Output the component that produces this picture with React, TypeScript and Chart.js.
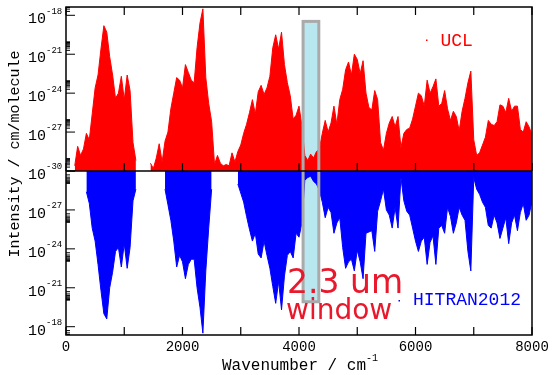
import React, { useEffect, useRef } from 'react';
import { Chart, registerables } from 'chart.js';

Chart.register(...registerables);

// Wavenumber sample positions (cm^-1)
const WAVENUMBER = [
  0, 50, 100, 150, 200, 250, 300, 350, 400, 450,
  500, 550, 600, 650, 700, 750, 800, 850, 900, 950,
  1000, 1050, 1100, 1150, 1200, 1250, 1300, 1350, 1400, 1450,
  1500, 1550, 1600, 1650, 1700, 1750, 1800, 1850, 1900, 1950,
  2000, 2050, 2100, 2150, 2200, 2250, 2300, 2350, 2400, 2450,
  2500, 2550, 2600, 2650, 2700, 2750, 2800, 2850, 2900, 2950,
  3000, 3050, 3100, 3150, 3200, 3250, 3300, 3350, 3400, 3450,
  3500, 3550, 3600, 3650, 3700, 3750, 3800, 3850, 3900, 3950,
  4000, 4050, 4100, 4150, 4200, 4250, 4300, 4350, 4400, 4450,
  4500, 4550, 4600, 4650, 4700, 4750, 4800, 4850, 4900, 4950,
  5000, 5050, 5100, 5150, 5200, 5250, 5300, 5350, 5400, 5450,
  5500, 5550, 5600, 5650, 5700, 5750, 5800, 5850, 5900, 5950,
  6000, 6050, 6100, 6150, 6200, 6250, 6300, 6350, 6400, 6450,
  6500, 6550, 6600, 6650, 6700, 6750, 6800, 6850, 6900, 6950,
  7000, 7050, 7100, 7150, 7200, 7250, 7300, 7350, 7400, 7450,
  7500, 7550, 7600, 7650, 7700, 7750, 7800, 7850, 7900, 7950,
  8000,
];

// log10 of the strongest line intensity (cm/molecule) near each wavenumber, UCL list
const UCL_LOG = [
  null, null, null, -29.6, -28.1, -28.8, -28.3, -27.1, -27.6, -25.6,
  -23.6, -22.6, -20.6, -18.8, -19.3, -21.2, -22.6, -24.4, -24.0, -22.7,
  -24.5, -22.6, -23.8, -27.8, -29.2, null, null, null, null, -29.4,
  -29.8, -29.0, -27.9, -29.3, -27.7, -27.0, -25.2, -24.0, -22.8, -23.0,
  -23.6, -21.8, -22.4, -23.0, -23.2, -20.5, -18.6, -17.5, -22.8, -24.8,
  -26.2, -29.5, -28.8, -29.4, -29.6, -29.5, -29.6, -28.6, -29.3, -28.5,
  -28.0, -27.1, -26.4, -25.5, -24.5, -25.6, -23.9, -23.4, -24.1, -23.6,
  -22.7, -20.5, -19.5, -20.6, -19.3, -21.8, -23.2, -24.2, -26.0, -25.7,
  -25.0, -26.5, -28.8, -29.2, -28.7, -29.0, -28.5, -28.3, -27.1, -26.1,
  -27.0, -26.3, -25.0, -26.4, -24.5, -23.7, -22.2, -21.6, -22.6, -21.0,
  -21.4, -22.5, -21.5, -24.0, -25.1, -25.3, -23.8, -24.5, -27.8, -28.4,
  -27.1, -26.3, -25.8, -26.6, -25.8, -28.2, -27.1, -26.8, -26.7, -26.0,
  -25.0, -24.0, -24.2, -25.0, -23.0, -24.0, -23.5, -22.9, -25.0, -24.8,
  -23.8, -25.2, -26.1, -25.4, -25.8, -26.9, -25.4, -24.4, -23.2, -22.3,
  -27.6, -28.8, -28.6, -28.0, -27.4, -26.1, -26.4, -26.5, -26.2, -24.9,
  -25.0, -25.5, -24.4, -25.4, -25.0, -25.0, -26.8, -27.0, -26.2, -26.6,
  -27.2,
];

// log10 of the strongest line intensity (cm/molecule) near each wavenumber, HITRAN2012
const HITRAN_LOG = [
  null, null, null, null, null, null, null, -28.4, -27.5, -25.6,
  -24.6, -22.8, -20.8, -19.0, -18.6, -21.0, -22.2, -23.8, -24.1, -22.6,
  -24.4, -22.5, -24.1, -27.7, -28.6, null, null, null, null, null,
  null, null, null, null, -28.6, -27.4, -26.2, -24.6, -22.6, -23.5,
  -23.0, -21.7, -22.8, -23.2, -23.2, -21.0, -19.5, -17.5, -22.3, -25.6,
  -28.6, null, -29.6, null, null, null, null, null, null, -29.0,
  -28.3, -27.6, -26.5, -25.5, -24.6, -25.2, -23.6, -23.3, -24.6, -23.5,
  -22.5, -21.1, -19.8, -21.5, -19.3, -21.9, -23.5, -23.8, -23.3, -25.2,
  -24.9, -26.0, -29.3, -29.5, -29.6, -29.2, -29.0, -28.5, -27.6, -26.4,
  -27.2, -26.8, -25.2, -26.0, -26.4, -24.1, -22.5, -23.0, -23.2, -22.3,
  -23.9, -23.0, -21.7, -25.2, -25.3, -25.4, -23.8, -26.9, -27.7, -28.6,
  -27.0, -26.6, -25.6, -27.2, -25.6, -29.5, -27.7, -26.9, -26.6, -25.6,
  -24.6, -23.8, -24.6, -24.9, -22.8, -24.5, -25.0, -22.8, -25.6, -25.8,
  -25.2, -27.2, -26.5, -25.2, -26.0, -27.2, -26.6, -26.2, -23.8, -22.3,
  -29.5, -28.6, -28.2, -27.6, -27.2, -25.8, -25.6, -26.6, -26.0, -24.8,
  -25.6, -26.4, -24.4, -26.0, -26.6, -25.4, -26.8, -27.5, -26.2, -26.6,
  -27.7,
];

// Axis definitions
const X_MIN = 0;
const X_MAX = 8000;
const X_TICK_STEP = 1000;
const X_LABEL_STEP = 2000;
const BASE_EXP = -30; // 1e-30 sits on the centre line
const LIMIT_EXP = -17.36; // axis extent at top and bottom
const Y_TICK_EXPONENTS = [-18, -21, -24, -27, -30];

// "2.3 um window" annotation (wavenumber range, upper/lower exponent extents)
const WINDOW_START = 4070;
const WINDOW_END = 4340;
const WINDOW_TOP_EXP = -18.47;
const WINDOW_BOTTOM_EXP = -19.92;

const SERIES_UCL = 'UCL';
const SERIES_HITRAN = 'HITRAN2012';

const MONO = '"Liberation Mono", "DejaVu Sans Mono", monospace';
const SANS = '"DejaVu Sans", sans-serif';

export default function App() {
  const ref = useRef<HTMLCanvasElement | null>(null);

  useEffect(() => {
    document.body.style.margin = '0';
    const canvas = ref.current;
    if (!canvas) return;

    const span = LIMIT_EXP - BASE_EXP;
    const upData = WAVENUMBER.map((w, i) => ({
      x: w,
      y: UCL_LOG[i] === null ? null : (UCL_LOG[i] as number) - BASE_EXP,
    }));
    const downData = WAVENUMBER.map((w, i) => ({
      x: w,
      y: HITRAN_LOG[i] === null ? null : -((HITRAN_LOG[i] as number) - BASE_EXP),
    }));

    const decor = {
      id: 'decor',
      beforeDatasetsDraw(chart: any) {
        const { ctx } = chart;
        const xs = chart.scales.x;
        const ys = chart.scales.y;
        const x1 = xs.getPixelForValue(WINDOW_START);
        const x2 = xs.getPixelForValue(WINDOW_END);
        const y1 = ys.getPixelForValue(WINDOW_TOP_EXP - BASE_EXP);
        const y2 = ys.getPixelForValue(-(WINDOW_BOTTOM_EXP - BASE_EXP));
        ctx.save();
        ctx.fillStyle = '#b9e7f0';
        ctx.fillRect(x1, y1, x2 - x1, y2 - y1);
        ctx.restore();
      },
      afterDatasetsDraw(chart: any) {
        const { ctx, chartArea: a } = chart;
        const xs = chart.scales.x;
        const ys = chart.scales.y;
        ctx.save();

        // window box outline (drawn above data)
        const x1 = xs.getPixelForValue(WINDOW_START);
        const x2 = xs.getPixelForValue(WINDOW_END);
        const y1 = ys.getPixelForValue(WINDOW_TOP_EXP - BASE_EXP);
        const y2 = ys.getPixelForValue(-(WINDOW_BOTTOM_EXP - BASE_EXP));
        ctx.strokeStyle = '#aaaaaa';
        ctx.lineWidth = 3;
        ctx.strokeRect(x1, y1, x2 - x1, y2 - y1);

        // centre line
        const yc = ys.getPixelForValue(0);
        ctx.strokeStyle = '#000';
        ctx.lineWidth = 1.5;
        ctx.beginPath();
        ctx.moveTo(a.left, yc);
        ctx.lineTo(a.right, yc);
        ctx.stroke();

        // frame
        ctx.lineWidth = 1.5;
        ctx.strokeRect(a.left, a.top, a.right - a.left, a.bottom - a.top);

        // x ticks
        ctx.lineWidth = 1.2;
        for (let w = X_MIN; w <= X_MAX; w += X_TICK_STEP) {
          const px = xs.getPixelForValue(w);
          ctx.beginPath();
          ctx.moveTo(px, a.top);
          ctx.lineTo(px, a.top + 8);
          ctx.moveTo(px, yc);
          ctx.lineTo(px, yc - 8);
          ctx.moveTo(px, a.bottom);
          ctx.lineTo(px, a.bottom - 8);
          ctx.stroke();
        }

        // y ticks (major + log minor)
        const inRange = (v: number) => v <= span + 1e-6 && v >= -span - 1e-6;
        ctx.lineWidth = 1;
        for (const e of Y_TICK_EXPONENTS) {
          const d = e - BASE_EXP;
          for (const v of [d, -d]) {
            const py = ys.getPixelForValue(v);
            ctx.beginPath();
            ctx.moveTo(a.left, py);
            ctx.lineTo(a.left + 9, py);
            ctx.stroke();
          }
          for (let k = 2; k <= 9; k++) {
            const off = Math.log10(k);
            for (const v of [d + off, -(d + off)]) {
              if (!inRange(v)) continue;
              const py = ys.getPixelForValue(v);
              ctx.beginPath();
              ctx.moveTo(a.left, py);
              ctx.lineTo(a.left + 4, py);
              ctx.stroke();
            }
          }
        }

        // y tick labels
        ctx.fillStyle = '#000';
        ctx.textBaseline = 'middle';
        for (const e of Y_TICK_EXPONENTS) {
          const d = e - BASE_EXP;
          const vals = d === 0 ? [0] : [d, -d];
          for (const v of vals) {
            const py = ys.getPixelForValue(v);
            ctx.font = `15px ${MONO}`;
            ctx.textAlign = 'right';
            ctx.fillText('10', a.left - 20, py + 4);
            ctx.font = `9px ${MONO}`;
            ctx.textAlign = 'left';
            ctx.fillText(String(e), a.left - 20, py - 4);
          }
        }

        // y title
        ctx.save();
        ctx.translate(15, 154);
        ctx.rotate(-Math.PI / 2);
        ctx.font = `15px ${MONO}`;
        ctx.textAlign = 'center';
        ctx.textBaseline = 'middle';
        ctx.fillText('Intensity / cm/molecule', 0, 0);
        ctx.restore();

        // x title with superscript
        ctx.font = `16px ${MONO}`;
        ctx.textAlign = 'left';
        ctx.textBaseline = 'middle';
        const xt = 'Wavenumber / cm';
        const xtw = ctx.measureText(xt).width;
        const xtLeft = (a.left + a.right) / 2 - xtw / 2 - 5;
        ctx.fillText(xt, xtLeft, 366);
        ctx.font = `10px ${MONO}`;
        ctx.fillText('-1', xtLeft + xtw, 358);

        // legend entries
        ctx.font = `18px ${MONO}`;
        ctx.textBaseline = 'middle';
        ctx.fillStyle = '#ff0000';
        ctx.fillRect(426, 39.5, 1.5, 1.5);
        ctx.fillText(SERIES_UCL, 440.5, 41);
        ctx.fillStyle = '#0000ff';
        ctx.fillRect(398.5, 300, 1.5, 1.5);
        ctx.fillText(SERIES_HITRAN, 413, 300);

        // window annotation
        ctx.fillStyle = '#e8192c';
        ctx.textBaseline = 'alphabetic';
        ctx.font = `33px ${SANS}`;
        ctx.fillText('2.3 um', 287, 293);
        ctx.font = `28px ${SANS}`;
        ctx.fillText('window', 286, 319);

        ctx.restore();
      },
    };

    const chart = new Chart(canvas, {
      type: 'line',
      data: {
        datasets: [
          {
            label: SERIES_UCL,
            data: upData,
            borderColor: '#ff0000',
            backgroundColor: '#ff0000',
            borderWidth: 1,
            pointRadius: 0,
            fill: 'origin',
            spanGaps: false,
            tension: 0,
          },
          {
            label: SERIES_HITRAN,
            data: downData,
            borderColor: '#0000ff',
            backgroundColor: '#0000ff',
            borderWidth: 1,
            pointRadius: 0,
            fill: 'origin',
            spanGaps: false,
            tension: 0,
          },
        ],
      },
      options: {
        responsive: false,
        animation: false,
        devicePixelRatio: 1,
        layout: { padding: { top: 7, right: 21, left: 0, bottom: 0 } },
        plugins: {
          legend: { display: false },
          tooltip: { enabled: false },
        },
        scales: {
          x: {
            type: 'linear',
            min: X_MIN,
            max: X_MAX,
            grid: { display: false, drawTicks: false },
            border: { display: false },
            ticks: {
              stepSize: X_TICK_STEP,
              autoSkip: false,
              maxRotation: 0,
              padding: 4,
              color: '#000',
              font: { family: MONO, size: 14 },
              callback: (v: any) => (Number(v) % X_LABEL_STEP === 0 ? String(v) : ''),
            },
            afterFit: (s: any) => {
              s.height = 40;
            },
          },
          y: {
            type: 'linear',
            min: -span,
            max: span,
            grid: { display: false, drawTicks: false },
            border: { display: false },
            ticks: { display: false },
            afterFit: (s: any) => {
              s.width = 66;
            },
          },
        },
      },
      plugins: [decor],
    });

    return () => chart.destroy();
  }, []);

  return <canvas ref={ref} width={553} height={375} style={{ display: 'block' }} />;
}
